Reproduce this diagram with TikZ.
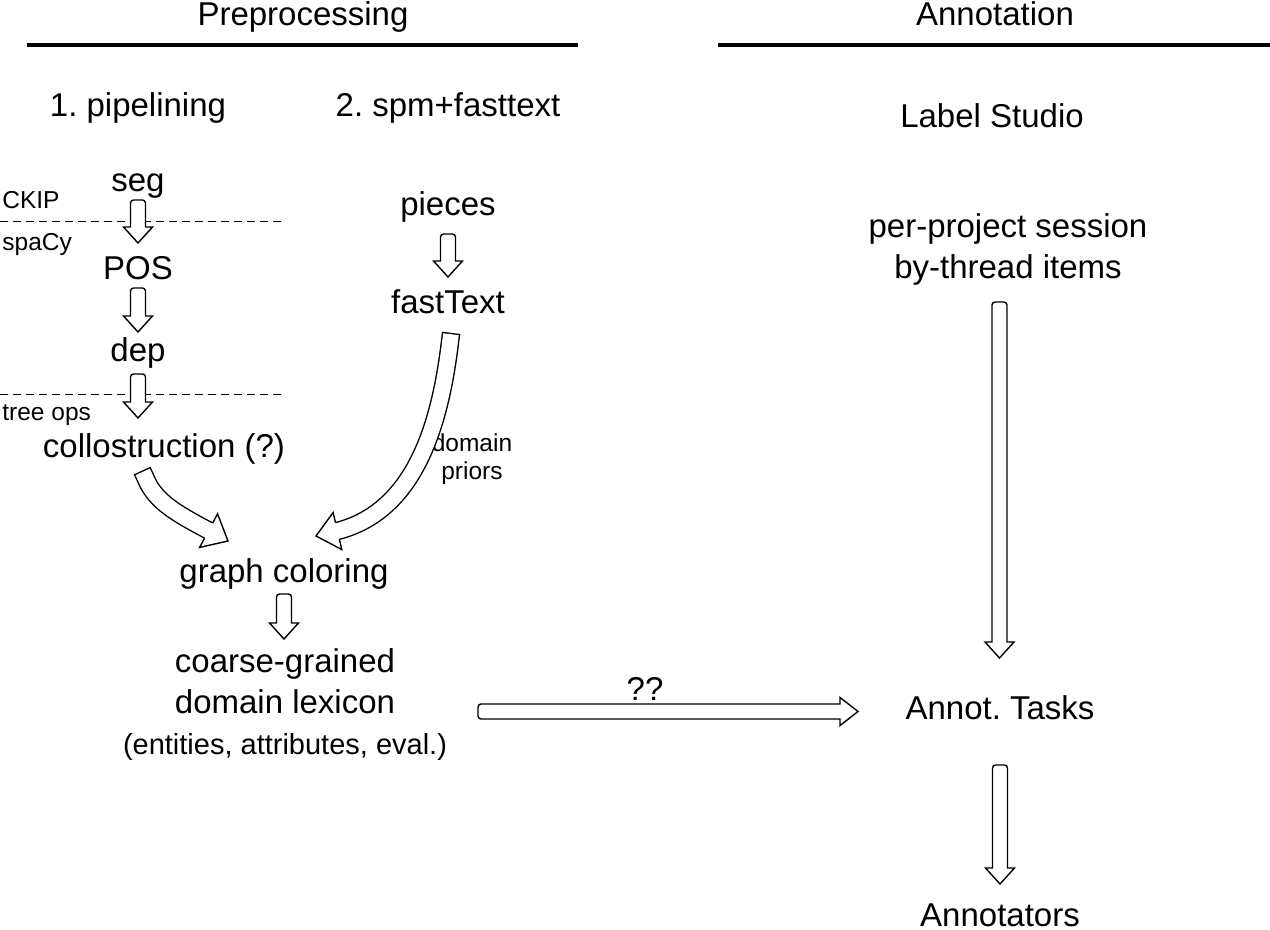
\documentclass[tikz,border=0pt]{standalone}
\usepackage{fontspec}
\setmainfont{Liberation Sans}
\usetikzlibrary{calc}
\frenchspacing
\newcommand\downblock[2]{\draw[blk] let \p1=(#1), \p2=(#2) in
 (\x1-3.75pt,\y2+8pt) [rounded corners=1.5pt] -- (\x1-3.75pt,\y1) -- (\x1+3.75pt,\y1) [sharp corners] -- (\x1+3.75pt,\y2+8pt) -- (\x1+7.25pt,\y2+8pt) -- (\x2,\y2) -- (\x1-7.25pt,\y2+8pt) -- cycle;}
\newcommand\rightblock[2]{\draw[blk] let \p1=(#1), \p2=(#2) in
 (\x2-9pt,\y1+3.75pt) [rounded corners=1.5pt] -- (\x1,\y1+3.75pt) -- (\x1,\y1-3.75pt) [sharp corners] -- (\x2-9pt,\y1-3.75pt) -- (\x2-9pt,\y1-7pt) -- (\x2,\y1) -- (\x2-9pt,\y1+7pt) -- cycle;}
\newcommand\curvehead[2]{%
 \begin{scope}[shift={(#1)},rotate=#2]
  \fill[white] (0pt,0pt) -- (-11pt,9.5pt) -- (-11pt,-9.5pt) -- cycle;
  \draw[line width=0.7pt,line join=miter] (-11pt,4.3pt) -- (-11pt,9.5pt) -- (0pt,0pt) -- (-11pt,-9.5pt) -- (-11pt,-4.3pt);
 \end{scope}}
\begin{document}
\begin{tikzpicture}[x=0.5pt,y=-0.5pt,
  big/.style={anchor=base,inner sep=0pt,font=\fontsize{16.5}{20}\selectfont},
  mid/.style={anchor=base,inner sep=0pt,font=\fontsize{14.5}{17}\selectfont},
  small/.style={anchor=base,inner sep=0pt,font=\fontsize{12.25}{15}\selectfont},
  smallw/.style={anchor=base west,inner sep=0pt,font=\fontsize{12.25}{15}\selectfont},
  rule/.style={line width=2.25pt},
  sep/.style={line width=0.5pt,dash pattern=on 4pt off 2.5pt},
  blk/.style={draw=black,fill=white,line width=0.7pt,line join=miter},
  cshaft/.style={line width=0.7pt,double=white,double distance=7.85pt,line cap=rect},
]
\useasboundingbox (0,0) rectangle (1270,930);

% headings
\node[big] (pre) at (303,26) {Preprocessing};
\node[big] (ann) at (995,26) {Annotation};
\coordinate (preL) at (27,45); \coordinate (preR) at (578,45);
\coordinate (annL) at (718,45); \coordinate (annR) at (1270,45);
\draw[rule] (preL) -- (preR);
\draw[rule] (annL) -- (annR);

\node[big] (pipe) at (138,117) {1. pipelining};
\node[big] (spm) at (448,117) {2. spm+fasttext};
\node[big] (ls) at (992,128) {Label Studio};

% pipeline column
\node[big] (seg) at (138,192) {seg};
\node[smallw] (ckip) at (2,209) {CKIP};
\node[smallw] (spacy) at (2,251) {spaCy};
\node[big] (pos) at (138,280) {POS};
\node[big] (dep) at (138,362) {dep};
\node[smallw] (tree) at (2,421) {tree ops};
\node[big] (coll) at (164,458) {collostruction (?)};

% spm column
\node[big] (pieces) at (448,216) {pieces};
\node[big] (ft) at (448,314) {fastText};
\node[small] (dom1) at (472,452) {domain};
\node[small] (dom2) at (472,480) {priors};

% lower part
\node[big] (gc) at (284,583) {graph coloring};
\node[big] (cg1) at (285,673) {coarse-grained};
\node[big] (cg2) at (285,713) {domain lexicon};
\node[mid] (cg3) at (285,754) {(entities, attributes, eval.)};
\node[big] (qq) at (645,700) {??};

% annotation column
\node[big] (pp1) at (1008,238) {per-project session};
\node[big] (pp2) at (1008,279) {by-thread items};
\node[big] (at) at (1000,719) {Annot. Tasks};
\node[big] (ators) at (1000,926) {Annotators};

% dashed separators
\coordinate (d1a) at (0,222); \coordinate (d1b) at (285,222);
\coordinate (d2a) at (0,395); \coordinate (d2b) at (285,395);
\draw[sep] (d1a) -- (d1b);
\draw[sep] (d2a) -- (d2b);

% straight block arrows
\coordinate (a1s) at (138,200); \coordinate (a1t) at (138,243);
\coordinate (a2s) at (138,288); \coordinate (a2t) at (138,332);
\coordinate (a3s) at (138,374); \coordinate (a3t) at (138,418);
\coordinate (a4s) at (448,234); \coordinate (a4t) at (448,277);
\coordinate (a5s) at (284,594); \coordinate (a5t) at (284,639);
\coordinate (a6s) at (999.5,302); \coordinate (a6t) at (999.5,658);
\coordinate (a7s) at (1000,765); \coordinate (a7t) at (1000,884);
\coordinate (h1s) at (478,711.5); \coordinate (h1t) at (858,711.5);
\downblock{a1s}{a1t}
\downblock{a2s}{a2t}
\downblock{a3s}{a3t}
\downblock{a4s}{a4t}
\downblock{a5s}{a5t}
\downblock{a6s}{a6t}
\downblock{a7s}{a7t}
\rightblock{h1s}{h1t}

% curved block arrows
\coordinate (c1s) at (146,479); \coordinate (c1e) at (208.5,530.5); \coordinate (c1t) at (228,541);
\draw[cshaft] (c1s) .. controls (155.5,502) and (177.7,514) .. (c1e);
\curvehead{c1t}{-28.1}
\coordinate (c2s) at (450,342); \coordinate (c2e) at (337.4,531); \coordinate (c2t) at (316,536);
\draw[cshaft] (c2s) .. controls (440,425) and (415,511) .. (c2e);
\curvehead{c2t}{193.1}
\end{tikzpicture}
\end{document}
